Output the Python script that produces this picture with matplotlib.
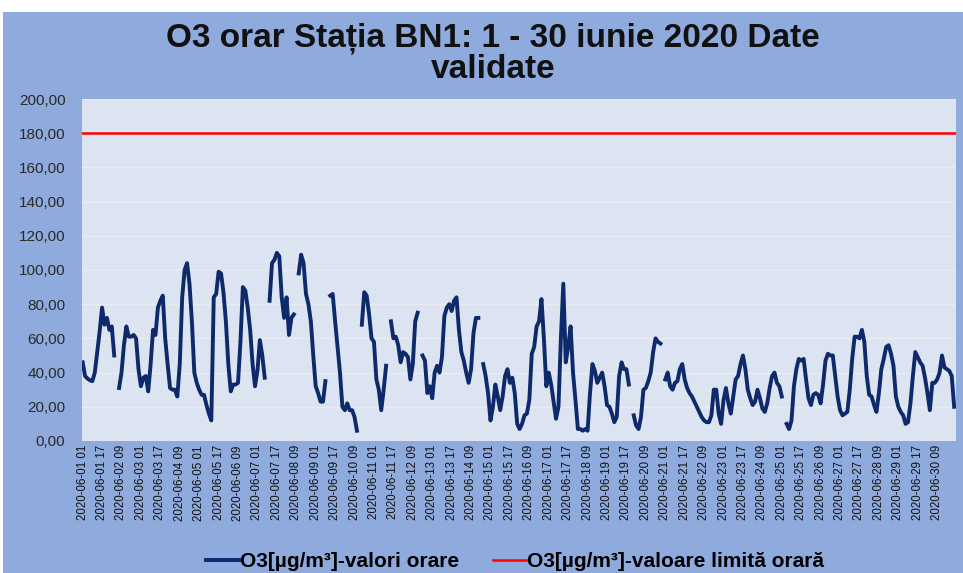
import numpy as np
import pandas as pd
import matplotlib
matplotlib.use('Agg')
import matplotlib.pyplot as plt
from matplotlib.patches import Rectangle
from matplotlib.ticker import FuncFormatter

plt.rcParams['font.family'] = ['Liberation Sans', 'DejaVu Sans']

nan = np.nan
# O3 hourly values, read every 2 hours (01, 03, ..., 23) for each day of June 2020
o3_orar = [
    46, 38, 36.5, 35.5, 35, 40, 52, 64, 78, 68, 72, 65,      # 01
    67, 50, nan, 31, 40, 56, 67, 61, 61, 62, 60, 42,         # 02
    32, 37, 38, 29, 45, 65, 62, 78, 82, 85, 60, 45,          # 03
    31, 30, 30, 26, 45, 84, 100, 104, 92, 70, 40, 34,        # 04
    30, 27, 27, 21, 16, 12, 84, 86, 99, 98, 87, 70,          # 05
    45, 29, 33, 33, 34, 58, 90, 88, 78, 65, 45, 32,          # 06
    41, 59, 50, 37, nan, 82, 104, 106, 110, 108, 84, 72,     # 07
    84, 62, 72, 74, nan, 98, 109, 104, 86, 80, 70, 50,       # 08
    32, 28, 23, 23, 35, nan, 85, 86, 70, 55, 40, 20,         # 09
    18, 22, 18, 18, 14, 6, nan, 68, 87, 85, 74, 60,          # 10
    58, 36, 30, 18, 30, 44, nan, 70, 60, 61, 56, 46,         # 11
    52, 51, 49, 36, 45, 70, 75, nan, 50, 47, 28, 32,         # 12
    25, 40, 44, 40, 49, 73, 78, 80, 76, 82, 84, 65,          # 13
    52, 47, 40, 34, 42, 63, 72, 72, nan, 45, 38, 28,         # 14
    12, 20, 33, 26, 18, 26, 38, 42, 34, 37, 28, 10,          # 15
    7, 10, 15, 16, 24, 51, 55, 67, 70, 83, 60, 32,           # 16
    40, 33, 23, 13, 20, 60, 92, 46, 55, 67, 40, 24,          # 17
    7, 7, 6, 7, 6, 28, 45, 41, 34, 37, 40, 32,               # 18
    21, 20, 16, 11, 14, 38, 46, 42, 42, 33, nan, 15,         # 19
    9, 7, 14, 30, 31, 35, 40, 52, 60, 58, 57, nan,           # 20
    36, 40, 32, 30, 34, 35, 42, 45, 36, 31, 28, 26,          # 21
    23, 20, 17, 14, 12, 11, 11, 15, 30, 30, 16, 10,          # 22
    24, 31, 22, 16, 26, 36, 38, 45, 50, 42, 30, 25,          # 23
    21, 23, 30, 25, 19, 17, 22, 31, 38, 40, 34, 32,          # 24
    26, nan, 10, 7, 12, 32, 42, 48, 47, 48, 36, 25,          # 25
    21, 27, 28, 27, 22, 33, 47, 51, 50, 50, 38, 26,          # 26
    18, 15, 16, 17, 30, 48, 61, 61, 60, 65, 58, 38,          # 27
    27, 26, 21, 17, 28, 42, 48, 55, 56, 51, 44, 26,          # 28
    20, 17, 15, 10, 11, 22, 38, 52, 49, 46, 44, 37,          # 29
    28, 18, 34, 34, 36, 40, 50, 43, 42, 41, 38, 20,          # 30
]
limita_orara = 180
n_ore = 720  # 30 days * 24 hours

titlu = 'O3 orar Stația BN1: 1 - 30 iunie 2020 Date\nvalidate'
eticheta_orar = 'O3[µg/m³]-valori orare'
eticheta_limita = 'O3[µg/m³]-valoare limită orară'

tick_labels = pd.date_range('2020-06-01 01:00', '2020-06-30 09:00', freq='16h').strftime('%Y-%m-%d %H')
tick_pos = np.arange(0, n_ore, 16)[:len(tick_labels)]

fig = plt.figure(figsize=(9.63, 5.73), dpi=100, facecolor='white')
fig.patches.append(Rectangle((0.003, 0), 0.997, 1 - 12 / 573, transform=fig.transFigure,
                             facecolor='#8FAADC', edgecolor='none', zorder=-10))

ax = fig.add_axes([0.0852, 0.2304, 0.9075, 0.5968])
ax.set_facecolor('#DCE3F1')

ore = np.arange(len(o3_orar)) * 2
ax.plot(ore, o3_orar, color='#0E2A6B', lw=2.8, label=eticheta_orar, zorder=3)
ax.axhline(limita_orara, color='#FF0000', lw=1.8, label=eticheta_limita, zorder=2)

ax.set_xlim(-0.5, n_ore - 0.5)
ax.set_ylim(0, 200)
ax.set_yticks(np.arange(0, 201, 20))
ax.yaxis.set_major_formatter(FuncFormatter(lambda v, p: f'{v:.2f}'.replace('.', ',')))
ax.set_xticks(tick_pos)
ax.set_xticklabels(tick_labels, rotation=90, fontsize=8.3, color='#111111')
ax.tick_params(axis='y', labelsize=11, colors='#2A2A2A', length=0, pad=12)
ax.tick_params(axis='x', length=0, pad=3)
ax.grid(axis='y', color='#E9ECF2', lw=1)
ax.set_axisbelow(True)
for s in ax.spines.values():
    s.set_visible(False)

fig.text(0.512, 1 - 23 / 573, titlu, ha='center', va='top', fontsize=24,
         fontweight='bold', color='#111111', linespacing=1.0)

fig.legend(loc='center', bbox_to_anchor=(0.535, 0.02), ncol=2, frameon=False,
           handlelength=1.6, handletextpad=0.05, columnspacing=1.6,
           prop={'size': 15, 'weight': 'bold'})

fig.savefig('out.png', dpi=100, facecolor=fig.get_facecolor())
